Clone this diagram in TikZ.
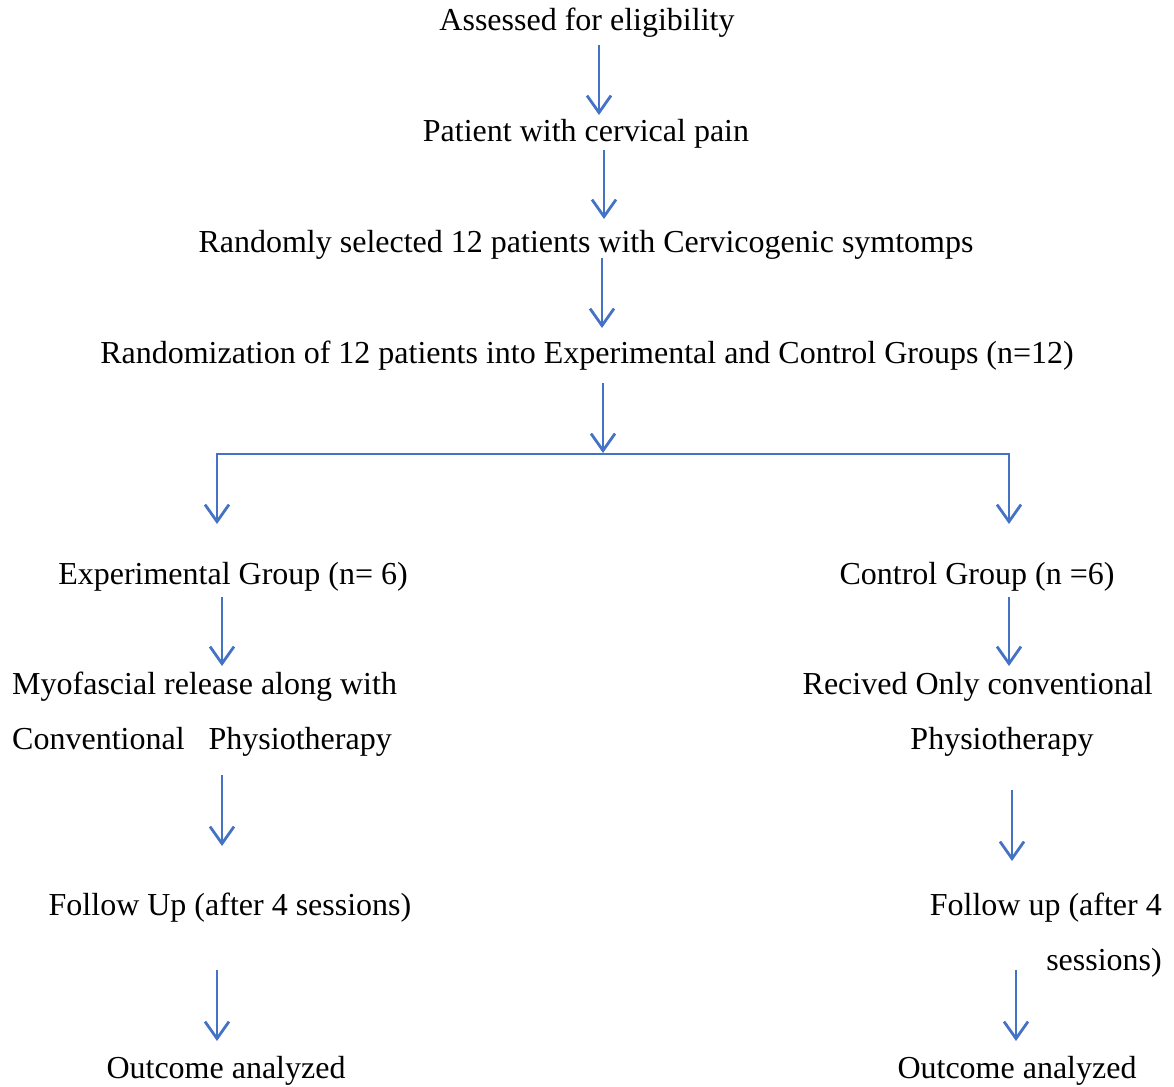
\documentclass[tikz,border=0pt]{standalone}
\usepackage{fontspec}
\setmainfont{Liberation Serif}
\usetikzlibrary{arrows.meta}
\definecolor{arrowblue}{HTML}{4472C4}
\tikzset{
  lbl/.style={inner sep=0pt, anchor=base, font=\fontsize{32}{38}\selectfont},
  lblw/.style={inner sep=0pt, anchor=base west, font=\fontsize{32}{38}\selectfont},
  lble/.style={inner sep=0pt, anchor=base east, font=\fontsize{32}{38}\selectfont},
  flow/.style={draw=arrowblue, line width=2.8pt, -{Straight Barb[length=17pt,width=24pt,line width=2.8pt]}},
  plainline/.style={draw=arrowblue, line width=2.8pt, line cap=rect}
}
\begin{document}
\begin{tikzpicture}[x=1pt,y=-1pt]
\useasboundingbox (0,0) rectangle (1174,1086);
% texts
\node[lbl] (t1) at (587,31) {Assessed for eligibility};
\node[lbl] (t2) at (586,142) {Patient with cervical pain};
\node[lbl] (t3) at (586,252) {Randomly selected 12 patients with Cervicogenic symtomps};
\node[lbl] (t4) at (587,363) {Randomization of 12 patients into Experimental and Control Groups (n=12)};
\node[lbl] (e1) at (233,584) {Experimental Group (n= 6)};
\node[lbl] (c1) at (977,584) {Control Group (n =6)};
\node[lblw] (e2a) at (12,694) {Myofascial release along with};
\node[lblw] (e2b) at (12,749) {Conventional\ \ \ Physiotherapy};
\node[lble] (c2a) at (1153,694) {Recived Only conventional};
\node[lbl] (c2b) at (1002,749) {Physiotherapy};
\node[lbl] (e3) at (230,915) {Follow Up (after 4 sessions)};
\node[lble] (c3a) at (1162,915) {Follow up (after 4};
\node[lble] (c3b) at (1162,970) {sessions)};
\node[lbl] (e4) at (226,1078) {Outcome analyzed};
\node[lbl] (c4) at (1017,1078) {Outcome analyzed};
% arrow coordinates
\coordinate (a1s) at (599,45);  \coordinate (a1e) at (599,115);
\coordinate (a2s) at (604,150); \coordinate (a2e) at (604,219);
\coordinate (a3s) at (602,258); \coordinate (a3e) at (602,328);
\coordinate (a4s) at (603,383); \coordinate (a4e) at (603,453);
\coordinate (hl) at (217,454);  \coordinate (hr) at (1009,454);
\coordinate (bl) at (217,524);  \coordinate (br) at (1009,524);
\coordinate (a5s) at (222,597); \coordinate (a5e) at (222,666);
\coordinate (a6s) at (1009,597);\coordinate (a6e) at (1009,666);
\coordinate (a7s) at (222,775); \coordinate (a7e) at (222,846);
\coordinate (a8s) at (1012,790);\coordinate (a8e) at (1012,861);
\coordinate (a9s) at (217,970); \coordinate (a9e) at (217,1041);
\coordinate (a10s) at (1016,970);\coordinate (a10e) at (1016,1041);
% connectors
\draw[flow] (a1s) -- (a1e);
\draw[flow] (a2s) -- (a2e);
\draw[flow] (a3s) -- (a3e);
\draw[flow] (a4s) -- (a4e);
\draw[plainline] (hl) -- (hr);
\draw[flow] (hl) -- (bl);
\draw[flow] (hr) -- (br);
\draw[flow] (a5s) -- (a5e);
\draw[flow] (a6s) -- (a6e);
\draw[flow] (a7s) -- (a7e);
\draw[flow] (a8s) -- (a8e);
\draw[flow] (a9s) -- (a9e);
\draw[flow] (a10s) -- (a10e);
\end{tikzpicture}
\end{document}
